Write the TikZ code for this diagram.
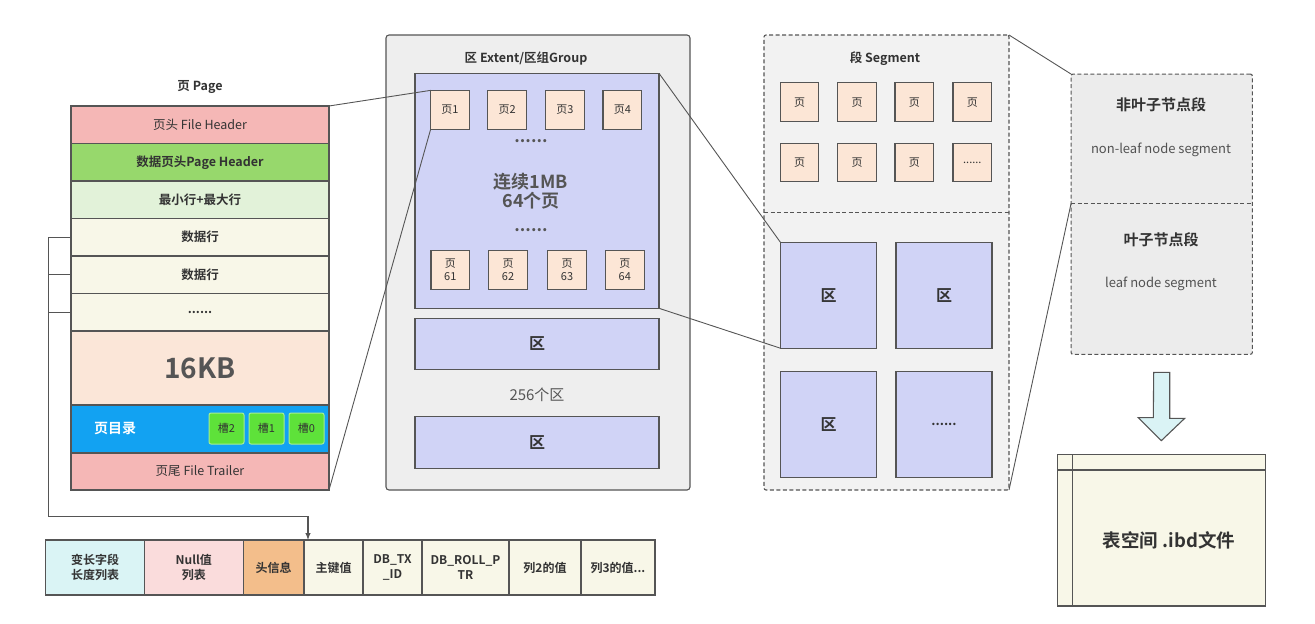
\documentclass[tikz,border=0pt]{standalone}
\usepackage{fontspec}
\setmainfont{Noto Sans CJK SC}[BoldFont={Noto Sans CJK SC Bold}]
\usetikzlibrary{arrows.meta, positioning}

\definecolor{hdrpink}{HTML}{F5B7B6}
\definecolor{pghdr}{HTML}{97D86C}
\definecolor{minmax}{HTML}{E2F2D9}
\definecolor{rowcream}{HTML}{F8F7E8}
\definecolor{kbpeach}{HTML}{FBE6D8}
\definecolor{dirblue}{HTML}{12A2F2}
\definecolor{slotgreen}{HTML}{5EE23A}
\definecolor{slotedge}{HTML}{A6EE94}
\definecolor{extgray}{HTML}{EEEEEE}
\definecolor{extblue}{HTML}{D0D3F6}
\definecolor{pagepeach}{HTML}{FCE6D6}
\definecolor{seggray}{HTML}{F2F2F2}
\definecolor{tsgray}{HTML}{ECECEC}
\definecolor{arrowcyan}{HTML}{DAF3F5}
\definecolor{varcyan}{HTML}{DAF4F5}
\definecolor{nullpink}{HTML}{FADCDC}
\definecolor{headorange}{HTML}{F3BE8B}
\definecolor{linegray}{HTML}{555555}
\definecolor{txtgray}{HTML}{333333}

\newcommand{\fs}[1]{\fontsize{#1}{\fpeval{#1*1.2}}\selectfont}

\begin{document}
\begin{tikzpicture}[x=1pt, y=-1pt,
  every node/.style={font=\fs{12.5}, text=txtgray, inner sep=0pt, outer sep=0pt},
  wire/.style={draw=linegray, line width=1.1pt},
  row/.style={wire, minimum width=258pt, minimum height=37.5pt, fill=rowcream},
  bold/.style={font=\fs{12.5}\bfseries},
  slot/.style={draw=slotedge, line width=1pt, fill=slotgreen, rounded corners=2pt,
    minimum width=35pt, minimum height=31pt, font=\fs{11}},
  pagebox/.style={wire, fill=pagepeach, minimum width=38.6pt, minimum height=38.7pt,
    align=center, font=\fs{11}\linespread{0.95}\selectfont},
  extbox/.style={wire, fill=extblue},
  dashbox/.style={draw=linegray, line width=1.1pt, dashed, dash pattern=on 4pt off 2.5pt,
    rounded corners=2pt},
  dots/.style={anchor=base, font=\fs{17}\bfseries, text=linegray},
  cell/.style={wire, minimum height=55pt, align=center, font=\fs{12}\bfseries}]

\useasboundingbox (0,0) rectangle (1315,624);

% page
\node[bold] (pagetitle) at (200,87) {页 Page};
\node[row, fill=hdrpink, anchor=north] (fh) at (200,106) {页头 File Header};
\node[row, fill=pghdr, below=0pt of fh, bold] (ph) {数据页头Page Header};
\node[row, fill=minmax, below=0pt of ph, bold] (mm) {最小行+最大行};
\node[row, below=0pt of mm, bold] (r1) {数据行};
\node[row, below=0pt of r1, bold] (r2) {数据行};
\node[row, below=0pt of r2, bold] (r3) {......};
\node[row, fill=kbpeach, minimum height=74pt, below=0pt of r3,
  font=\fs{28}\bfseries, text=linegray] (kb) {16KB};
\node[row, fill=dirblue, minimum height=48pt, below=0pt of kb] (dir) {};
\node[font=\fs{14}\bfseries, text=white] (dirname) at (115,429) {页目录};
\node[slot] (s2) at (226.5,428.5) {槽2};
\node[slot, right=5pt of s2] (s1) {槽1};
\node[slot, right=5pt of s1] (s0) {槽0};
\node[row, fill=hdrpink, minimum height=37pt, below=0pt of dir] (ft) {页尾 File Trailer};

% row format
\node[cell, fill=varcyan, minimum width=98.6pt, anchor=north west] (varlen) at (45.7,540) {变长字段\\长度列表};
\node[cell, fill=nullpink, minimum width=99pt, right=0pt of varlen] (nulls) {Null值\\列表};
\node[cell, fill=headorange, minimum width=60.7pt, right=0pt of nulls] (hdr) {头信息};
\node[cell, fill=rowcream, minimum width=59pt, right=0pt of hdr] (pk) {主键值};
\node[cell, fill=rowcream, minimum width=59pt, right=0pt of pk] (txid) {DB\_TX\\\_ID};
\node[cell, fill=rowcream, minimum width=87pt, right=0pt of txid] (roll) {DB\_ROLL\_P\\TR};
\node[cell, fill=rowcream, minimum width=72pt, right=0pt of roll] (col2) {列2的值};
\node[cell, fill=rowcream, minimum width=74pt, right=0pt of col2] (col3) {列3的值...};

\coordinate (turn) at (48.5,516.5);
\draw[wire, -{Latex[length=7pt,width=5.5pt]}] (r1.west) -| (turn) -| ([xshift=4pt]pk.north west);
\draw[wire] (r2.west) -- (r2.west -| turn);
\draw[wire] (r3.west) -- (r3.west -| turn);

% extent group
\node[wire, fill=extgray, rounded corners=3pt, minimum width=304pt, minimum height=455pt] (group) at (538,262.5) {};
\node[bold] (grouptitle) at (526,59) {区 Extent/区组Group};
\node[extbox, minimum width=244pt, minimum height=235pt] (mb) at (537,190.8) {};
\node[pagebox] (p1) at (450,109.7) {页1};
\node[pagebox] (p2) at (507.2,109.7) {页2};
\node[pagebox] (p3) at (565,109.7) {页3};
\node[pagebox] (p4) at (622.3,109.7) {页4};
\node[dots] (dotsa) at (531,142) {......};
\node[align=center, font=\fs{18}\bfseries\linespread{0.85}\selectfont, text=linegray] (mbtext) at (531,191) {连续1MB\\64个页};
\node[dots] (dotsb) at (531,231) {......};
\node[pagebox] (p61) at (450.3,269.7) {页\\61};
\node[pagebox] (p62) at (508,269.7) {页\\62};
\node[pagebox] (p63) at (567,269.7) {页\\63};
\node[pagebox] (p64) at (624.8,269.7) {页\\64};
\node[extbox, minimum width=244pt, minimum height=51.7pt, font=\fs{16}\bfseries] (ext2) at (537,344) {区};
\node[font=\fs{15}, text=linegray] (count) at (537,395) {256个区};
\node[extbox, minimum width=244pt, minimum height=51.7pt, font=\fs{16}\bfseries] (ext3) at (537,442.5) {区};

\draw[wire, line width=0.9pt] (fh.north east) -- (p1.north west);
\draw[wire, line width=0.9pt] (ft.south east) -- (p1.south west);

% segment
\node[dashbox, fill=seggray, minimum width=245pt, minimum height=455pt] (seg) at (886.5,262.5) {};
\coordinate (segcut) at (0,212.7);
\draw[dashbox] (seg.west |- segcut) -- (seg.east |- segcut);
\node[bold] (segtitle) at (885,59) {段 Segment};
\foreach \i/\x in {1/799.5, 2/857, 3/914.3, 4/972.3}
  \node[pagebox] (sp\i) at (\x,102.2) {页};
\foreach \i/\x in {5/799.5, 6/857, 7/914.3}
  \node[pagebox] (sp\i) at (\x,162.5) {页};
\node[pagebox] (sp8) at (972.3,162.5) {......};
\node[extbox, minimum width=96pt, minimum height=105.6pt, font=\fs{16}\bfseries] (se1) at (828.7,295.5) {区};
\node[extbox, minimum width=96pt, minimum height=105.6pt, font=\fs{16}\bfseries] (se2) at (944,295.5) {区};
\node[extbox, minimum width=96pt, minimum height=105.6pt, font=\fs{16}\bfseries] (se3) at (828.7,424.5) {区};
\node[extbox, minimum width=96pt, minimum height=105.6pt, font=\fs{13}\bfseries] (se4) at (944,424.5) {......};

\draw[wire, line width=0.9pt] (mb.north east) -- (se1.north west);
\draw[wire, line width=0.9pt] (mb.south east) -- (se1.south west);

% tablespace
\node[dashbox, fill=tsgray, minimum width=181.3pt, minimum height=280.3pt] (ts) at (1161.7,214.2) {};
\coordinate (tscut) at (0,203.5);
\draw[dashbox] (ts.west |- tscut) -- (ts.east |- tscut);
\node[font=\fs{15}\bfseries] (nonleaf) at (1161,105) {非叶子节点段};
\node[font=\fs{13}, text=txtgray!85] (nonleafen) at (1161,150) {non-leaf node segment};
\node[font=\fs{15}\bfseries] (leaf) at (1161,240) {叶子节点段};
\node[font=\fs{13}, text=txtgray!85] (leafen) at (1161,284) {leaf node segment};

\draw[wire, line width=0.9pt] (seg.north east) -- (ts.north west);
\draw[wire, line width=0.9pt] (seg.south east) -- (ts.west |- tscut);

% ibd file
\node[wire, fill=rowcream, minimum width=208pt, minimum height=151.3pt] (ibd) at (1161.3,530.3) {};
\draw[wire] ([xshift=15.4pt]ibd.north west) -- ([xshift=15.4pt]ibd.south west);
\draw[wire] ([yshift=-15.3pt]ibd.north west) -- ([yshift=-15.3pt]ibd.north east);
\node[font=\fs{18.5}\bfseries] (ibdname) at (1169,540) {表空间 .ibd文件};

\draw[wire, fill=arrowcyan] ([xshift=-8pt,yshift=-18pt]ts.south) -- ++(16,0) -- ++(0,46)
  -- ++(15,0) -- ([yshift=14pt]ibd.north) -- ++(-23,-23) -- ++(15,0) -- cycle;

\end{tikzpicture}
\end{document}
